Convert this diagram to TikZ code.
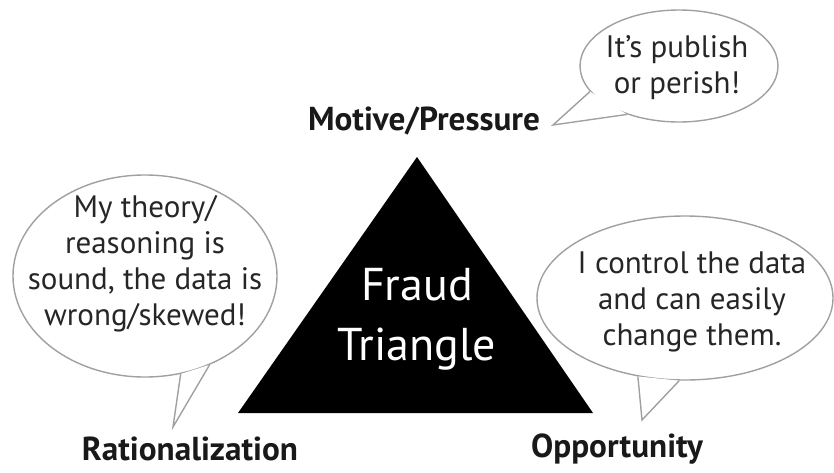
\documentclass[tikz,border=0pt]{standalone}
\usepackage{fontspec}
\setmainfont{PT Sans}
\usetikzlibrary{shapes.geometric}
\definecolor{bubbleline}{HTML}{A0A0A0}
\tikzset{
  bubble/.style={ellipse, draw=bubbleline, line width=1.4pt, fill=white, inner sep=0pt},
  bubbletext/.style={align=center, text=black!85, font=\fontsize{31}{36}\selectfont},
  label/.style={font=\bfseries\fontsize{33.2}{38}\selectfont, text=black!90},
  tail/.style={draw=bubbleline, line width=1.4pt, line join=miter},
}
\begin{document}
\begin{tikzpicture}[x=1pt,y=-1pt]
\useasboundingbox (0,0) rectangle (834,472);
% triangle
\coordinate (tl) at (238,413);
\coordinate (tr) at (593,413);
\coordinate (ta) at (417,157);
\fill[black] (tl) -- (ta) -- (tr) -- cycle;
\node[align=center, text=white, font=\fontsize{46}{60}\selectfont] (fraud) at (417,319) {Fraud\\Triangle};

% top bubble
\node[bubble, minimum width=198, minimum height=112] (b1) at (679,66) {};
\coordinate (t1) at (553,125);
\fill[white] (b1.196) -- (t1) -- (b1.223) -- cycle;
\draw[tail] (b1.196) -- (t1) -- (b1.223);
\node[bubbletext] (b1t) at (677,68) {It’s publish\\or perish!};

% left bubble
\node[bubble, minimum width=264, minimum height=202] (b2) at (145,276) {};
\coordinate (t2) at (173,427);
\fill[white] (b2.290) -- (t2) -- (b2.306) -- cycle;
\draw[tail] (b2.290) -- (t2) -- (b2.306);
\node[bubbletext] (b2t) at (145,264) {My theory/\\reasoning is\\sound, the data is\\wrong/skewed!};

% right bubble
\node[bubble, minimum width=296, minimum height=164] (b3) at (685,298) {};
\coordinate (t3) at (642,420);
\fill[white] (b3.239) -- (t3) -- (b3.266) -- cycle;
\draw[tail] (b3.239) -- (t3) -- (b3.266);
\node[bubbletext] (b3t) at (692,302) {I control the data\\and can easily\\change them.};

% labels
\node[label] (motive) at (424,121) {Motive/Pressure};
\node[label] (rat) at (190,449) {Rationalization};
\node[label] (opp) at (617,449) {Opportunity};
\end{tikzpicture}
\end{document}
